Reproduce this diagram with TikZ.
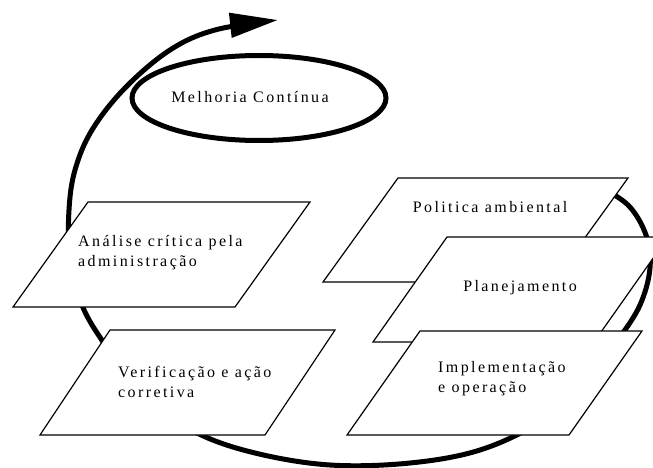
\documentclass[tikz,border=0pt]{standalone}
\usepackage{fontspec}
\setmainfont{Liberation Serif}[LetterSpace=15]
\usetikzlibrary{shapes.geometric, arrows.meta}
\tikzset{
  slab/.style={draw, fill=white, line width=1.2pt, line join=miter},
  slabtext/.style={align=left, font=\fontsize{16}{20}\selectfont, inner sep=0pt},
  loopline/.style={line width=5pt, -{Triangle[length=48pt, width=24pt]}},
}
\begin{document}
\begin{tikzpicture}[x=1pt, y=-1pt]
  \useasboundingbox (0,0) rectangle (653,468);
  \clip (0,0) rectangle (653,468);
  % the improvement loop
  \draw[loopline] plot[smooth, tension=0.6] coordinates {(598,186) (628,205) (646,235) (650,268) (640,305) (618,340) (585,385) (540,422) (480,450) (410,463) (330,465) (255,453) (195,432) (140,395) (105,345) (82,305) (70,255) (69,210) (75,170) (92,130) (125,88) (170,50) (215,30) (278,20)};
  \node[ellipse, draw, line width=5pt, minimum width=254pt, minimum height=85pt] (melhoria) at (259,98) {};
  \node[slabtext] (melhoriatext) at (250,97) {Melhoria Contínua};
  % right column
  \draw[slab] (323,282) -- ++(75,-104) -- ++(230,0) -- ++(-75,104) -- cycle;
  \node[slabtext] (politica) at (490,207) {Politica ambiental};
  \draw[slab] (373,342) -- ++(74,-105) -- ++(221,0) -- ++(-74,105) -- cycle;
  \node[slabtext] (planejamento) at (520,288) {Planejamento};
  \draw[slab] (347,435) -- ++(73,-104) -- ++(222,0) -- ++(-73,104) -- cycle;
  \node[slabtext, anchor=west] (implementacao) at (438,379) {Implementação\\e operação};
  % left column
  \draw[slab] (13,307) -- ++(75,-105) -- ++(222,0) -- ++(-75,105) -- cycle;
  \node[slabtext, anchor=west] (analise) at (78,253) {Análise crítica pela\\administração};
  \draw[slab] (40,435) -- ++(70,-105) -- ++(225,0) -- ++(-70,105) -- cycle;
  \node[slabtext, anchor=west] (verificacao) at (118,382) {Verificação e ação\\corretiva};
\end{tikzpicture}
\end{document}
